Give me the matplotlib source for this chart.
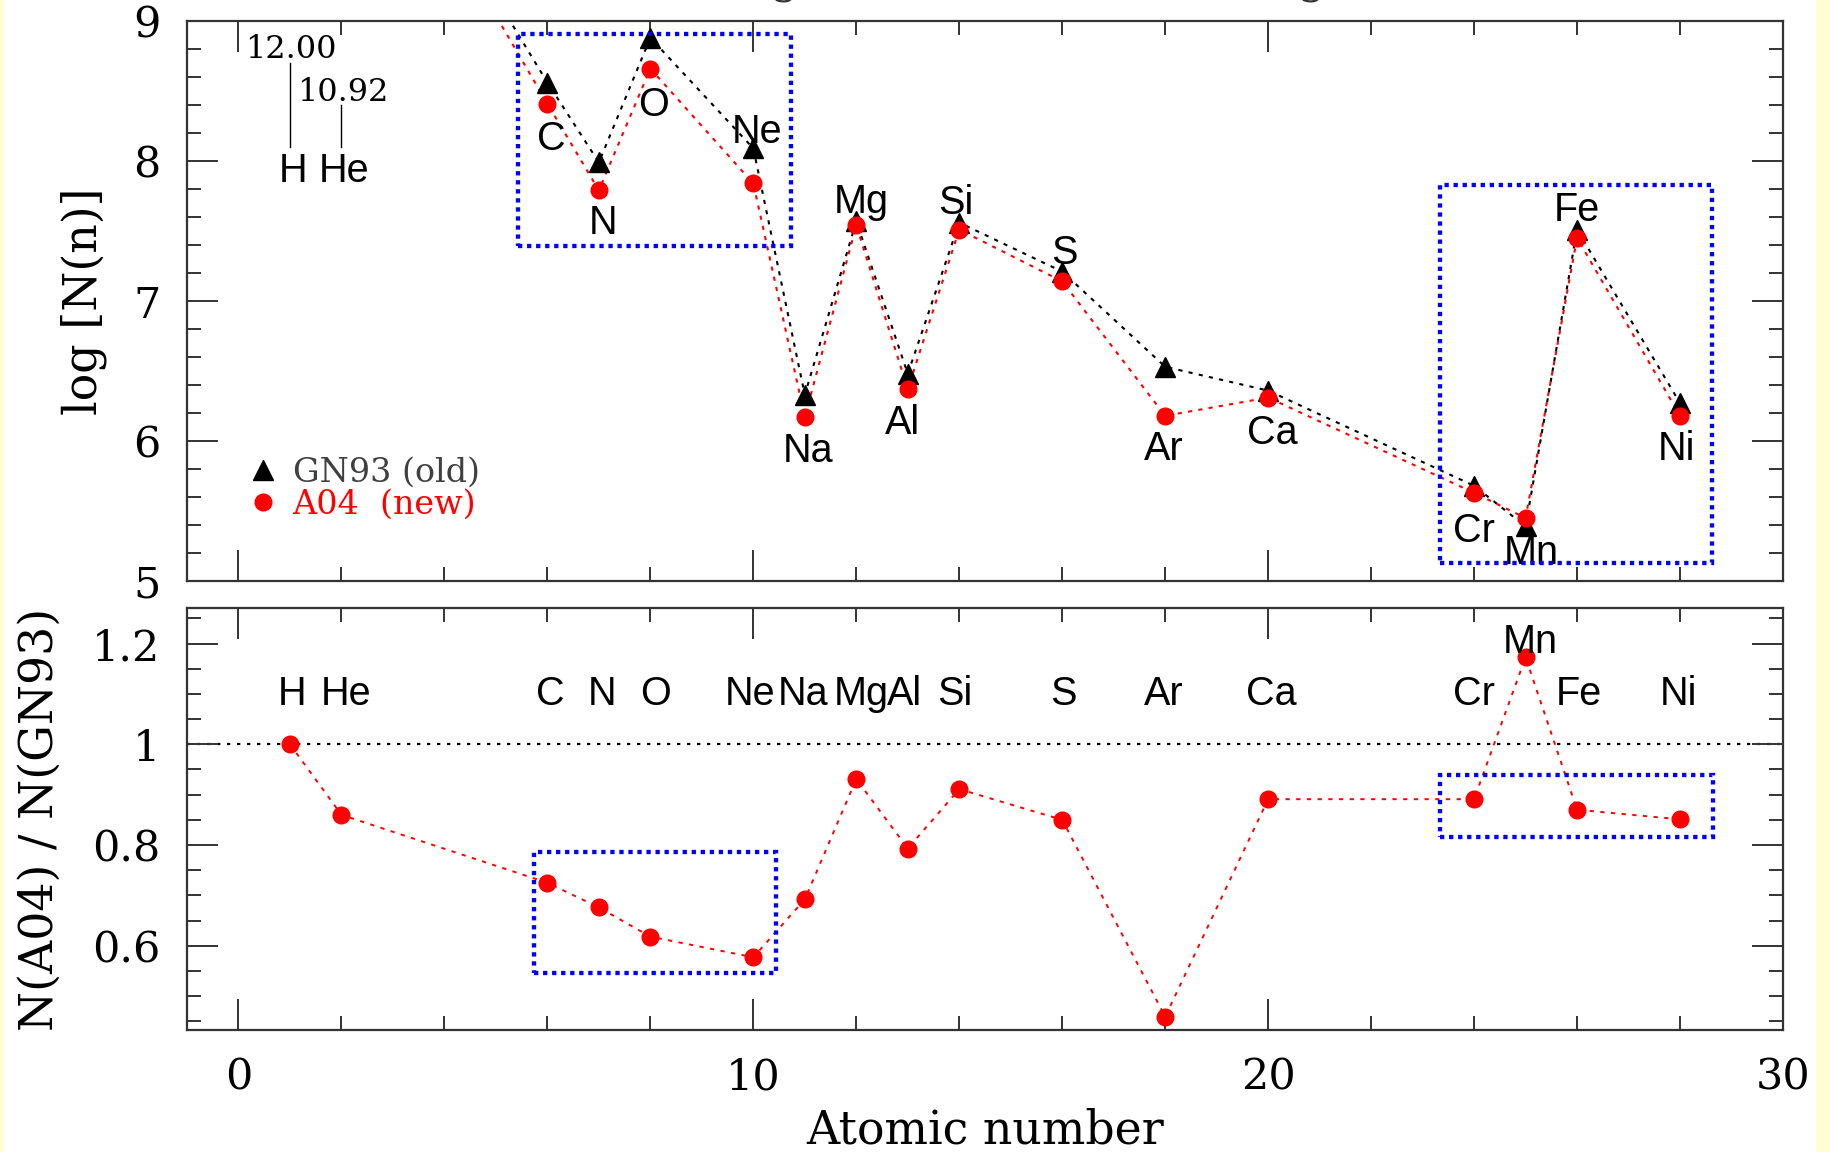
import matplotlib
matplotlib.use("Agg")
import matplotlib.pyplot as plt
from matplotlib.patches import Rectangle
from matplotlib.lines import Line2D
from matplotlib.ticker import MultipleLocator, FuncFormatter

# ---------------------------------------------------------------- data
elements = ["H", "He", "C", "N", "O", "Ne", "Na", "Mg", "Al", "Si",
            "S", "Ar", "Ca", "Cr", "Mn", "Fe", "Ni"]
atomic_number = [1, 2, 6, 7, 8, 10, 11, 12, 13, 14, 16, 18, 20, 24, 25, 26, 28]

# log abundances, GN93 (old) and A04 (new)
log_gn93 = [12.00, 10.99, 8.56, 7.99, 8.88, 8.09, 6.33, 7.57, 6.48, 7.56,
            7.21, 6.53, 6.36, 5.68, 5.39, 7.51, 6.27]
log_a04 = [12.00, 10.92, 8.41, 7.79, 8.66, 7.84, 6.17, 7.54, 6.37, 7.51,
           7.14, 6.18, 6.31, 5.63, 5.45, 7.45, 6.18]

# abundance ratio N(A04) / N(GN93)
ratio = [1.000, 0.860, 0.725, 0.676, 0.618, 0.577, 0.692, 0.931, 0.793, 0.911,
         0.850, 0.459, 0.891, 0.891, 1.173, 0.870, 0.851]

legend_labels = ["GN93 (old)", "A04  (new)"]
x_label = "Atomic number"
y_label_top = "log [N(n)]"
y_label_bottom = "N(A04) / N(GN93)"

# ---------------------------------------------------------------- layout
W, H = 1830, 1152
DPI = 100
SPINE = "#333333"
SERIF = "DejaVu Serif"
SANS = "Liberation Sans"

# element label anchors in the upper panel (data coords)
top_label_xy = {
    "C": (6.07, 8.16), "N": (7.08, 7.56), "O": (8.07, 8.40), "Ne": (10.07, 8.21),
    "Na": (11.07, 5.93), "Mg": (12.09, 7.71), "Al": (12.90, 6.13),
    "Si": (13.93, 7.70), "S": (16.05, 7.34), "Ar": (17.98, 5.94),
    "Ca": (20.09, 6.06), "Cr": (23.99, 5.36), "Mn": (25.12, 5.20),
    "Fe": (26.00, 7.65), "Ni": (27.93, 5.94),
}
# element label x-shifts and heights in the lower panel
bottom_label_dx = {"H": 0.04, "He": 0.09, "C": 0.05, "N": 0.07, "O": 0.10,
                   "Ne": -0.07, "Na": -0.03, "Mg": 0.10, "Al": -0.07,
                   "Si": -0.08, "S": 0.03, "Ar": -0.02, "Ca": 0.07,
                   "Cr": -0.01, "Mn": 0.10, "Fe": 0.03, "Ni": -0.04}
bottom_label_y = {"Mn": 1.204}
bottom_label_default_y = 1.10

fig = plt.figure(figsize=(W / DPI, H / DPI), dpi=DPI)
fig.patch.set_facecolor("white")

# pale yellow page edges
for x0, w in [(0, 4), (1816, 14)]:
    fig.patches.append(Rectangle((x0 / W, 0), w / W, 1, transform=fig.transFigure,
                                 facecolor="#FFFFD2", edgecolor="none", zorder=-10))

left, right = 187 / W, 1783 / W
ax1 = fig.add_axes([left, 1 - 581 / H, right - left, (581 - 21) / H])
ax2 = fig.add_axes([left, 1 - 1030 / H, right - left, (1030 - 608) / H])

for ax in (ax1, ax2):
    ax.set_xlim(-1, 30)
    for s in ax.spines.values():
        s.set_color(SPINE)
        s.set_linewidth(1.6)
    ax.xaxis.set_major_locator(MultipleLocator(10))
    ax.xaxis.set_minor_locator(MultipleLocator(2))
    ax.tick_params(which="both", direction="in", top=True, right=True,
                   color=SPINE, width=1.4, labelsize=31, pad=19)
    ax.tick_params(which="major", length=22)
    ax.tick_params(which="minor", length=10)

fmt = FuncFormatter(lambda v, p: "%g" % round(v, 3))

# ---------------------------------------------------------------- upper panel
ax1.set_ylim(5, 9)
ax1.yaxis.set_major_locator(MultipleLocator(1))
ax1.yaxis.set_minor_locator(MultipleLocator(0.2))
ax1.yaxis.set_major_formatter(fmt)
ax1.tick_params(labelbottom=False)

ax1.plot(atomic_number, log_gn93, color="black", lw=1.5, ls=(0, (2, 3)), zorder=2)
ax1.plot(atomic_number, log_a04, color="red", lw=1.5, ls=(0, (2, 3)), zorder=2)
ax1.plot(atomic_number, log_gn93, ls="none", marker="^", ms=14, color="black", zorder=3)
ax1.plot(atomic_number, log_a04, ls="none", marker="o", ms=12, color="red",
         mec="red", zorder=4)

for el in elements[2:]:
    x, y = top_label_xy[el]
    ax1.text(x, y, el, family=SANS, fontsize=28.5, ha="center", va="center", zorder=5)

# H and He lie above the frame: values written with pointer lines
z_h, z_he = atomic_number[0], atomic_number[1]
ax1.text(z_h + 0.02, 8.80, "%.2f" % log_a04[0], family=SERIF, fontsize=23,
         ha="center", va="center")
ax1.text(z_he + 0.03, 8.49, "%.2f" % log_a04[1], family=SERIF, fontsize=23,
         ha="center", va="center")
ax1.plot([z_h, z_h], [8.70, 8.10], color="black", lw=1.0)
ax1.plot([z_he, z_he], [8.40, 8.10], color="black", lw=1.0)
ax1.text(z_h + 0.06, 7.93, "H", family=SANS, fontsize=28.5, ha="center", va="center")
ax1.text(z_he + 0.05, 7.93, "He", family=SANS, fontsize=28.5, ha="center", va="center")

box_kw = dict(fill=False, edgecolor="blue", lw=3.1, ls=(0, (1, 1.1)), zorder=6,
              clip_on=False)
ax1.add_patch(Rectangle((5.43, 7.39), 10.73 - 5.43, 8.91 - 7.39, **box_kw))
ax1.add_patch(Rectangle((23.33, 5.13), 28.63 - 23.33, 7.83 - 5.13, **box_kw))

handles = [Line2D([], [], ls="none", marker="^", ms=14, color="black"),
           Line2D([], [], ls="none", marker="o", ms=12, color="red")]
ax1.legend(handles, legend_labels, loc="upper left", bbox_to_anchor=(0.040, 0.222),
           frameon=False, prop={"family": SERIF, "size": 24},
           labelcolor=["#404040", "red"], handlelength=0.75, handletextpad=0.5,
           labelspacing=0.0, borderpad=0, borderaxespad=0)

ax1.set_ylabel(y_label_top, family=SERIF, fontsize=33)
ax1.yaxis.set_label_coords(-0.050, 0.5)

# ---------------------------------------------------------------- lower panel
ax2.set_ylim(0.4326, 1.2707)
ax2.yaxis.set_major_locator(MultipleLocator(0.2))
ax2.yaxis.set_minor_locator(MultipleLocator(0.05))
ax2.yaxis.set_major_formatter(fmt)
ax2.xaxis.set_major_formatter(fmt)

ax2.axhline(1.0, color="black", lw=1.6, ls=(0, (1.5, 3)), zorder=1)
ax2.plot(atomic_number, ratio, color="red", lw=1.4, ls=(0, (2.2, 3.3)), zorder=2)
ax2.plot(atomic_number, ratio, ls="none", marker="o", ms=12, color="red", zorder=4)

for el, z in zip(elements, atomic_number):
    ax2.text(z + bottom_label_dx[el], bottom_label_y.get(el, bottom_label_default_y),
             el, family=SANS, fontsize=28.5, ha="center", va="center", zorder=5)

ax2.add_patch(Rectangle((5.74, 0.546), 10.44 - 5.74, 0.786 - 0.546, **box_kw))
ax2.add_patch(Rectangle((23.33, 0.816), 28.65 - 23.33, 0.939 - 0.816, **box_kw))

ax2.set_ylabel(y_label_bottom, family=SERIF, fontsize=33)
ax2.yaxis.set_label_coords(-0.078, 0.5)
ax2.set_xlabel(x_label, family=SERIF, fontsize=33, va="top")
ax2.xaxis.set_label_coords(0.5, -0.186)

for lab in ax2.get_xticklabels() + ax2.get_yticklabels() + ax1.get_yticklabels():
    lab.set_family(SERIF)

# column headings running off the top edge
for xc in (840, 1367):
    fig.text(xc / W, 1 + 8 / H, y_label_top, family=SERIF, fontsize=32,
             ha="center", va="baseline", color="#333333")

fig.savefig("out.png", dpi=DPI)
